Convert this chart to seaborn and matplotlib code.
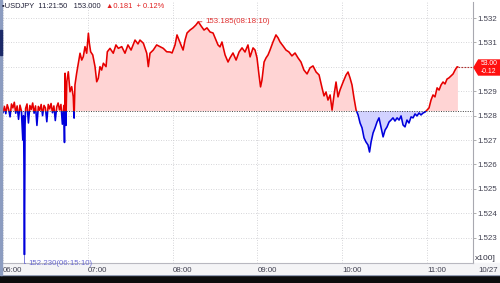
import matplotlib
matplotlib.use("Agg")
import matplotlib.pyplot as plt
import seaborn as sns
import numpy as np
import pandas as pd
from matplotlib.patches import Rectangle, Polygon

# ---------------- data ----------------
symbol = "USDJPY"
last_time = "11:21:50"
last_price = 153.000
change = 0.181
change_pct = 0.12
prev_close = 152.819
high_label = "153.185(08:18:10)"
low_label = "152.230(06:15:10)"
tag_lines = ["53.00", "-0.12"]

# minutes after 06:00
minutes = [
    0, 1, 2, 3, 4, 5, 6, 7, 8, 9, 10, 11, 12, 13, 14, 14.5, 14.8, 15.17, 15.4, 15.6,
    16, 17, 18, 19, 20, 21, 22, 23, 24, 25, 26, 27, 28, 29, 30, 31, 32, 33, 34, 35,
    36, 37, 38, 39, 40, 41, 42, 43, 43.5,
    43.9, 44.5, 45.1, 46.2, 47.4, 48.6, 49.7, 50.3, 50.9, 52.1, 53.3, 54.5, 55.7, 56.8,
    58.0, 59.2, 60.4, 61.1, 62.0, 63.5, 65.1, 66.3, 67.4, 68.6, 69.8, 71.0, 72.9, 73.8,
    75.7, 78.0, 79.9, 81.6, 84.0, 86.3, 88.4, 90.6, 93.4, 95.5, 96.9, 99.3, 101.7,
    102.8, 104.0, 106.3, 108.7, 111.1, 113.4, 115.8,
    118.2, 119.6, 121.7, 123.1, 124.5, 125.9, 127.4, 128.8, 130.2, 132.3, 134.4, 136.5,
    138.17, 140.1, 142.2, 144.3, 146.5, 148.6, 150.7, 152.1, 153.5, 154.9, 157.1, 159.2,
    160.6, 162.7, 164.9, 167.0, 169.1, 171.2, 173.3, 174.8, 176.9, 178.3, 179.7, 181.1,
    182.2, 183.2, 184.7, 186.1, 187.5, 188.9, 191.0, 193.1, 194.6, 196.0, 198.1, 200.2,
    202.3, 204.4, 206.6, 208.7, 210.8, 212.9, 215.1, 217.2, 219.3, 221.5, 223.6, 225.7,
    227.1, 228.5, 229.9, 231.4,
    232.8, 234.2, 235.6, 237.0, 238.4, 240.6, 242.7, 244.1, 245.5, 246.9, 248.3, 249.8,
    251.2, 252.6, 254.0, 255.4, 256.8, 258.2, 259.3, 260.4, 261.8, 263.2, 264.6, 266.0,
    267.5, 268.9, 270.3, 271.7, 273.1, 274.5, 275.9, 277.3, 278.8, 280.2, 281.6, 283.0,
    284.4, 285.8, 287.2, 288.7, 290.1, 291.5, 292.9, 294.3, 295.7, 297.2, 298.6, 300.0,
    301.4, 302.8, 304.2, 305.6, 307.1, 308.5, 309.9, 311.3, 312.7, 314.1, 315.5, 316.9,
    318.4, 319.8, 321.2, 321.83,
]
prices = [
    152.812, 152.838, 152.808, 152.845, 152.826, 152.795, 152.848, 152.832, 152.855, 152.810,
    152.840, 152.785, 152.843, 152.820, 152.700, 152.800, 152.620, 152.230, 152.550, 152.760,
    152.830, 152.848, 152.770, 152.842, 152.826, 152.852, 152.810, 152.840, 152.760, 152.838,
    152.822, 152.846, 152.800, 152.842, 152.832, 152.775, 152.846, 152.828, 152.850, 152.812,
    152.840, 152.780, 152.836, 152.852, 152.824, 152.846, 152.765, 152.842, 152.690,
    152.974, 152.760, 152.939, 152.980, 152.898, 152.919, 152.878, 152.790, 152.926, 152.974,
    153.015, 153.056, 153.028, 153.042, 153.083, 153.056, 153.138, 153.097, 153.062, 153.049,
    153.001, 152.939, 152.953, 153.001, 152.987, 153.015, 153.001, 153.062, 153.076, 153.056,
    153.090, 153.076, 153.083, 153.056, 153.090, 153.069, 153.110, 153.094, 153.110, 153.097,
    153.056, 153.001, 153.056, 153.069, 153.090, 153.083, 153.076, 153.062,
    153.061, 153.057, 153.090, 153.131, 153.110, 153.090, 153.069, 153.110, 153.139, 153.151,
    153.160, 153.172, 153.185, 153.168, 153.151, 153.160, 153.143, 153.139, 153.110, 153.090,
    153.082, 153.102, 153.049, 153.020, 153.037, 153.057, 153.028, 153.061, 153.078, 153.061,
    153.090, 153.041, 153.078, 153.069, 153.037, 152.967, 152.918, 152.946, 153.020, 153.037,
    153.049, 153.069, 153.102, 153.131, 153.119, 153.102, 153.086, 153.069, 153.061, 153.045,
    153.057, 153.037, 153.020, 152.987, 152.971, 152.996, 153.004, 152.979, 152.967, 152.914,
    152.881, 152.897, 152.864, 152.885,
    152.823, 152.885, 152.938, 152.877, 152.905, 152.938, 152.967, 152.979, 152.955, 152.926,
    152.873, 152.823, 152.803, 152.770, 152.750, 152.709, 152.692, 152.680, 152.651, 152.692,
    152.729, 152.750, 152.774, 152.791, 152.750, 152.713, 152.741, 152.754, 152.774, 152.782,
    152.791, 152.778, 152.791, 152.782, 152.799, 152.762, 152.754, 152.782, 152.770, 152.795,
    152.791, 152.807, 152.799, 152.811, 152.803, 152.811, 152.815, 152.823, 152.832, 152.864,
    152.885, 152.877, 152.914, 152.905, 152.926, 152.938, 152.930, 152.950, 152.955, 152.963,
    152.971, 152.987, 153.000, 153.000,
]
x_ticks = [0, 60, 120, 180, 240, 300]
x_labels = ["06:00", "07:00", "08:00", "09:00", "10:00", "11:00"]
y_ticks = [152.3, 152.4, 152.5, 152.6, 152.7, 152.8, 152.9, 153.0, 153.1, 153.2]
date_label = "10/27"

df = pd.DataFrame({"minute": minutes, "price": prices})

# ---------------- style ----------------
sns.set_theme(style="white")
plt.rcParams["font.family"] = ["Liberation Sans", "DejaVu Sans"]

W, H = 500, 283
fig = plt.figure(figsize=(5.0, 2.83), dpi=100)
fig.patch.set_facecolor("white")

def px(x, y):
    return (x / W, 1 - y / H)

# frame decorations (behind the axes)
fig.patches.append(Rectangle((0, 0), 1, 8 / H, transform=fig.transFigure, color="#0c0c0c", zorder=-5))
fig.patches.append(Rectangle((0, 8 / H), 1, 1.2 / H, transform=fig.transFigure, color="#7d8aa6", zorder=-5))
fig.patches.append(Rectangle((0, 9 / H), 1, 11 / H, transform=fig.transFigure, color="#f4f4f6", zorder=-5))
fig.patches.append(Rectangle((0, 8 / H), 2.2 / W, 1 - 8 / H, transform=fig.transFigure, color="#8c9cc0", zorder=3))
fig.patches.append(Rectangle((0, 1 - 55 / H), 2.2 / W, 25 / H, transform=fig.transFigure, color="#1c2a68", zorder=3))

ax = fig.add_axes([3 / W, 20 / H, 470 / W, 261 / H])
ax.set_zorder(1)
ax.set_facecolor("white")
ax.set_xlim(0, 332.5)
ax.set_ylim(152.196, 153.266)

RED = "#e60000"
BLUE = "#0000dc"
t = df["minute"].to_numpy()
v = df["price"].to_numpy()

ax.fill_between(t, v, prev_close, where=v >= prev_close, interpolate=True,
                color="#ffd4d4", lw=0, zorder=1)
ax.fill_between(t, v, prev_close, where=v <= prev_close, interpolate=True,
                color="#d2d2ff", lw=0, zorder=1)

sns.lineplot(data=df, x="minute", y="price", ax=ax, color=RED, lw=1.15,
             estimator=None, sort=False, zorder=3)
line_r = ax.lines[-1]
line_r.set_clip_path(Rectangle((-10, prev_close), 400, 5, transform=ax.transData))
sns.lineplot(data=df, x="minute", y="price", ax=ax, color=BLUE, lw=1.15,
             estimator=None, sort=False, zorder=3)
line_b = ax.lines[-1]
line_b.set_clip_path(Rectangle((-10, prev_close - 5), 400, 5, transform=ax.transData))

ax.axhline(prev_close, color="#404040", lw=0.7, ls=(0, (1, 1.5)), zorder=4)
ax.plot([t[-1], ax.get_xlim()[1]], [last_price, last_price], color="#b03030",
        lw=0.8, ls=(0, (1.5, 1.2)), zorder=4)

# grid
ax.grid(True, color="#c8c8cc", lw=0.6, ls=(0, (1, 2)))
ax.set_axisbelow(True)

# axes
for s in ["top", "left"]:
    ax.spines[s].set_visible(False)
ax.spines["bottom"].set_color("#b8b8c0")
ax.spines["right"].set_color("#a8a8b0")
ax.spines["bottom"].set_linewidth(0.8)
ax.spines["right"].set_linewidth(0.8)

ax.set_xticks(x_ticks)
ax.set_xticklabels(x_labels)
for lab in ax.get_xticklabels():
    lab.set_ha("left")
ax.tick_params(axis="x", length=2, width=0.5, color="#909090", pad=1.2,
               labelsize=5.7, labelcolor="#404050", direction="out")

ax.yaxis.tick_right()
ax.set_yticks(y_ticks)
ax.set_yticklabels([f"{y / 100:.3f}" for y in y_ticks])
ax.tick_params(axis="y", length=2, width=0.5, color="#909090", pad=1.0,
               labelsize=5.7, labelcolor="#404050", direction="out")
# the label sitting under the current-price tag is hidden, as in the original
for y, lab in zip(y_ticks, ax.get_yticklabels()):
    if abs(y - last_price) < 0.03:
        lab.set_visible(False)
ax.set_xlabel("")
ax.set_ylabel("")

# high / low annotations
i_hi = int(np.argmax(v))
i_lo = int(np.argmin(v))
ax.annotate(high_label, xy=(t[i_hi], v[i_hi]), xytext=(5, 0), textcoords="offset points",
            fontsize=5.7, color="#e03030", va="center", ha="left",
            arrowprops=dict(arrowstyle="-", color="#e03030", lw=0.6, shrinkA=0, shrinkB=0))
ax.annotate(low_label, xy=(t[i_lo], v[i_lo]), xytext=(3, -6), textcoords="offset points",
            fontsize=5.7, color="#6a6ad0", va="center", ha="left",
            arrowprops=dict(arrowstyle="-", color="#6a6ad0", lw=0.6, shrinkA=0, shrinkB=0,
                            connectionstyle="angle,angleA=0,angleB=90,rad=0"))

# title
fig.text(*px(2.5, 7), f"\u25aa{symbol}  {last_time}   {last_price:.3f}", fontsize=5.4,
         color="#202038", va="center", ha="left")
fig.text(*px(106, 7), f"\u25b2{change:.3f}  + {change_pct:.2f}%", fontsize=5.4,
         color="#e02020", va="center", ha="left")

# current price tag on the right
tag = Polygon([px(474, 67.5), px(478.5, 60), px(501, 60), px(501, 75), px(478.5, 75)],
              closed=True, transform=fig.transFigure, color="#ff1010", zorder=5)
fig.patches.append(tag)
fig.text(*px(480.5, 67.6), "\n".join(tag_lines), fontsize=4.9, color="white",
         va="center", ha="left", linespacing=1.05, zorder=6)

fig.text(*px(475, 258), "x100]", fontsize=6.0, color="#303040", va="center", ha="left")
fig.text(*px(478, 270), date_label, fontsize=5.7, color="#404050", va="center", ha="left")

fig.savefig("out.png", dpi=100)
